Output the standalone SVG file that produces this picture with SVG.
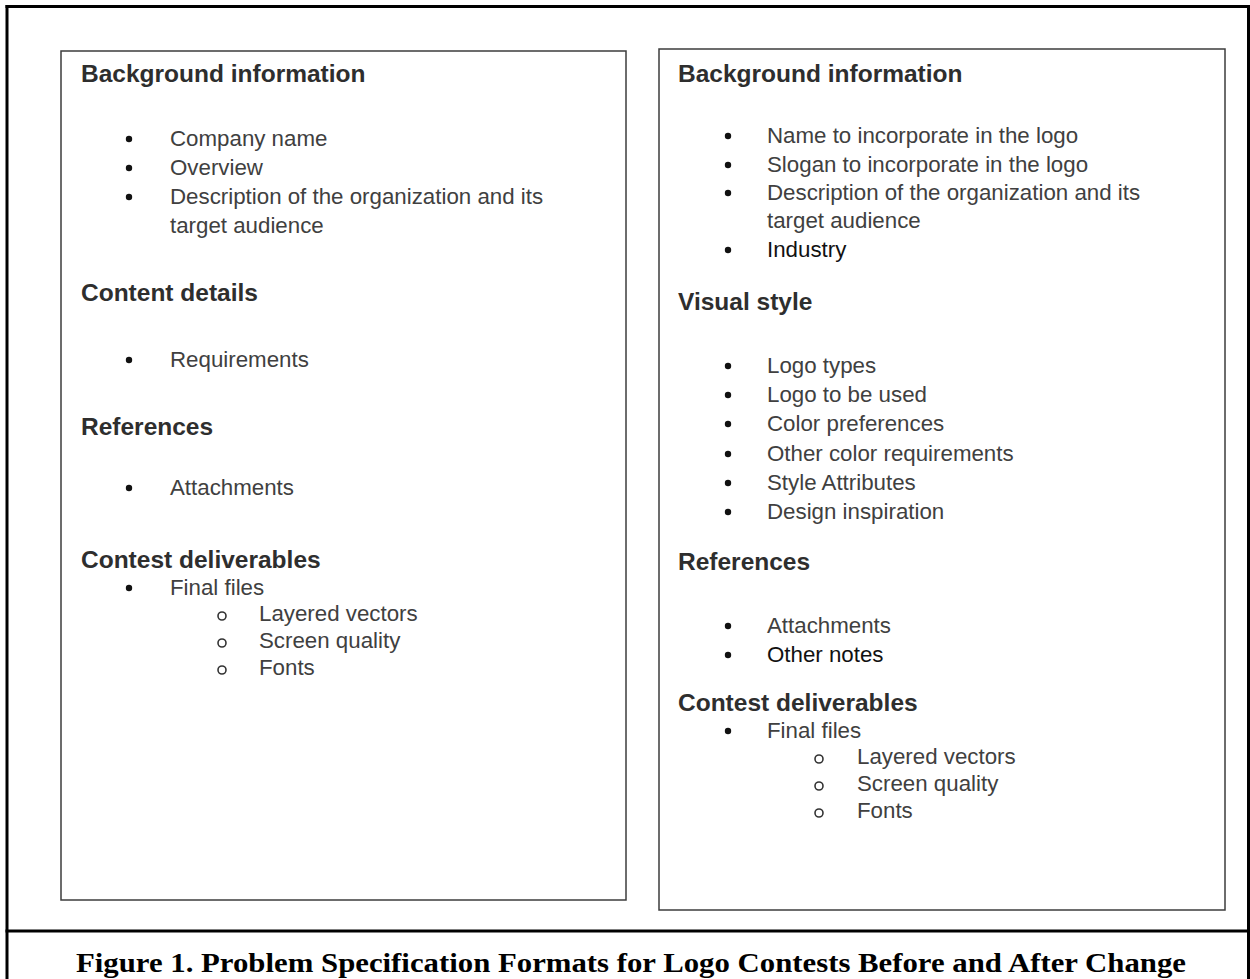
<svg xmlns="http://www.w3.org/2000/svg" width="1250" height="979" viewBox="0 0 1250 979">
<style>
.frame{fill:none;stroke:#000;stroke-width:3}
.box{fill:#fff;stroke:#3c3c3c;stroke-width:1.5}
.h{font-family:"Liberation Sans",Arial,sans-serif;font-weight:bold;font-size:24.5px;fill:#2e2e2e}
.t{font-family:"Liberation Sans",Arial,sans-serif;font-size:22.3px;fill:#404040}
.k{fill:#111}
.dot{fill:#111}
.ring{fill:none;stroke:#333;stroke-width:1.6}
.cap{font-family:"Liberation Serif","Times New Roman",serif;font-weight:bold;font-size:27px;fill:#000}
</style>
<rect width="1250" height="979" fill="#fff"/>
<g id="frame">
<line class="frame" x1="5.5" y1="6.5" x2="1250" y2="6.5"/>
<line class="frame" x1="7" y1="5" x2="7" y2="979"/>
<line class="frame" x1="1248.5" y1="5" x2="1248.5" y2="979"/>
<line class="frame" x1="5.5" y1="931" x2="1250" y2="931"/>
</g>
<g id="before">
<rect class="box" x="61" y="51" width="565" height="849"/>
<text class="h" x="81" y="82">Background information</text>
<circle class="dot" cx="129" cy="139" r="3.2"/><text class="t" x="170" y="146">Company name</text>
<circle class="dot" cx="129" cy="168" r="3.2"/><text class="t" x="170" y="175">Overview</text>
<circle class="dot" cx="129" cy="197" r="3.2"/><text class="t" x="170" y="204">Description of the organization and its</text>
<text class="t" x="170" y="233">target audience</text>
<text class="h" x="81" y="301">Content details</text>
<circle class="dot" cx="129" cy="360" r="3.2"/><text class="t" x="170" y="367">Requirements</text>
<text class="h" x="81" y="435">References</text>
<circle class="dot" cx="129" cy="488" r="3.2"/><text class="t" x="170" y="495">Attachments</text>
<text class="h" x="81" y="568">Contest deliverables</text>
<circle class="dot" cx="129" cy="588" r="3.2"/><text class="t" x="170" y="595">Final files</text>
<circle class="ring" cx="222" cy="616" r="4"/><text class="t" x="259" y="621">Layered vectors</text>
<circle class="ring" cx="222" cy="643" r="4"/><text class="t" x="259" y="648">Screen quality</text>
<circle class="ring" cx="222" cy="670" r="4"/><text class="t" x="259" y="675">Fonts</text>
</g>
<g id="after">
<rect class="box" x="659" y="49" width="566" height="861"/>
<text class="h" x="678" y="82">Background information</text>
<circle class="dot" cx="728" cy="136" r="3.2"/><text class="t" x="767" y="143">Name to incorporate in the logo</text>
<circle class="dot" cx="728" cy="165" r="3.2"/><text class="t" x="767" y="172">Slogan to incorporate in the logo</text>
<circle class="dot" cx="728" cy="193" r="3.2"/><text class="t" x="767" y="200">Description of the organization and its</text>
<text class="t" x="767" y="228">target audience</text>
<circle class="dot" cx="728" cy="250" r="3.2"/><text class="t k" x="767" y="257">Industry</text>
<text class="h" x="678" y="310">Visual style</text>
<circle class="dot" cx="728" cy="366" r="3.2"/><text class="t" x="767" y="373">Logo types</text>
<circle class="dot" cx="728" cy="395" r="3.2"/><text class="t" x="767" y="402">Logo to be used</text>
<circle class="dot" cx="728" cy="424" r="3.2"/><text class="t" x="767" y="431">Color preferences</text>
<circle class="dot" cx="728" cy="454" r="3.2"/><text class="t" x="767" y="461">Other color requirements</text>
<circle class="dot" cx="728" cy="483" r="3.2"/><text class="t" x="767" y="490">Style Attributes</text>
<circle class="dot" cx="728" cy="512" r="3.2"/><text class="t" x="767" y="519">Design inspiration</text>
<text class="h" x="678" y="570">References</text>
<circle class="dot" cx="728" cy="626" r="3.2"/><text class="t" x="767" y="633">Attachments</text>
<circle class="dot" cx="728" cy="655" r="3.2"/><text class="t k" x="767" y="662">Other notes</text>
<text class="h" x="678" y="711">Contest deliverables</text>
<circle class="dot" cx="728" cy="731" r="3.2"/><text class="t" x="767" y="738">Final files</text>
<circle class="ring" cx="819" cy="759" r="4"/><text class="t" x="857" y="764">Layered vectors</text>
<circle class="ring" cx="819" cy="786" r="4"/><text class="t" x="857" y="791">Screen quality</text>
<circle class="ring" cx="819" cy="813" r="4"/><text class="t" x="857" y="818">Fonts</text>
</g>
<g id="connectors"/>
<g id="caption">
<text class="cap" x="631" y="972" text-anchor="middle" textLength="1110" lengthAdjust="spacingAndGlyphs">Figure 1. Problem Specification Formats for Logo Contests Before and After Change</text>
</g>
</svg>
